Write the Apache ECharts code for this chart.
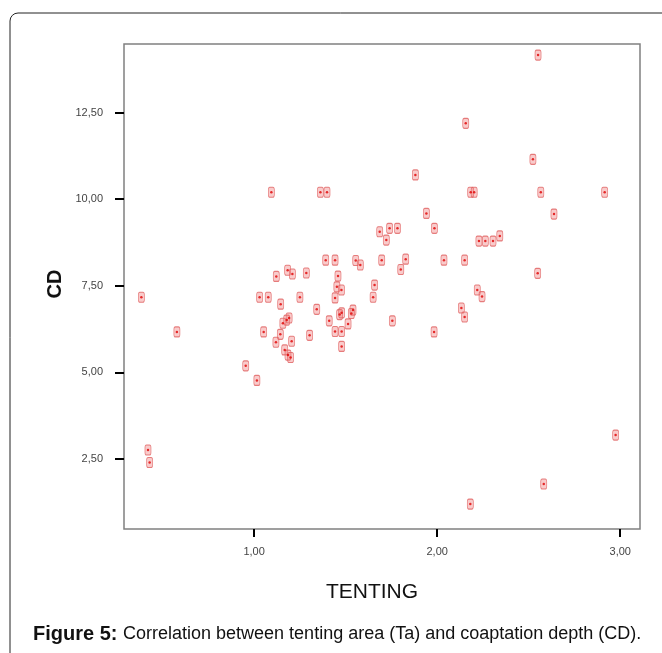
<!DOCTYPE html>
<html>
<head>
<meta charset="utf-8">
<script src="https://cdn.jsdelivr.net/npm/echarts@6/dist/echarts.min.js"></script>
<style>
html,body{margin:0;padding:0;background:#fff;}
#chart{width:662px;height:653px;}
</style>
</head>
<body>
<div id="chart"></div>
<script>
// Tenting area (x) values
const tenting = [2.551,2.156,2.523,1.881,1.094,1.362,1.398,2.183,2.202,2.566,2.915,2.638,1.941,1.985,1.740,1.783,1.686,1.722,2.342,2.228,2.263,2.305,1.391,1.442,1.555,1.580,1.697,1.828,1.801,2.037,2.150,2.549,1.183,1.209,1.285,1.121,1.458,1.452,1.477,1.442,1.658,1.650,2.219,2.245,0.384,1.030,1.077,1.250,1.145,1.342,1.178,1.191,1.157,1.410,1.478,1.467,1.540,1.531,1.513,1.755,2.132,2.150,1.983,0.578,1.052,1.143,1.119,1.205,1.303,1.442,1.478,1.478,1.167,1.185,1.199,0.954,1.015,0.420,0.429,2.975,2.582,2.181];
// Coaptation depth (y) values
const cd = [14.16,12.19,11.15,10.70,10.20,10.20,10.20,10.20,10.20,10.20,10.20,9.57,9.59,9.16,9.16,9.16,9.06,8.82,8.94,8.79,8.79,8.79,8.24,8.24,8.23,8.10,8.24,8.27,7.97,8.24,8.24,7.86,7.95,7.84,7.87,7.77,7.78,7.47,7.38,7.15,7.52,7.17,7.38,7.19,7.17,7.17,7.17,7.17,6.97,6.82,6.51,6.57,6.42,6.49,6.72,6.67,6.80,6.70,6.40,6.49,6.86,6.60,6.17,6.17,6.17,6.10,5.87,5.90,6.07,6.18,6.18,5.75,5.65,5.50,5.43,5.19,4.77,2.76,2.40,3.19,1.78,1.20];
const xTicks = [1, 2, 3];
const yTicks = [2.5, 5, 7.5, 10, 12.5];

const points = tenting.map((x, i) => [x, cd[i]]);
const fmt = v => Number(v).toFixed(2).replace('.', ',');
const labelFont = '"Liberation Sans Narrow", "Liberation Sans", Arial, sans-serif';

const chart = echarts.init(document.getElementById('chart'), null, {renderer: 'canvas'});
chart.setOption({
  animation: false,
  backgroundColor: '#fff',
  grid: {left: 124, top: 44, width: 516, height: 485, show: true, borderColor: '#808080', borderWidth: 1.5, backgroundColor: 'transparent'},
  xAxis: {
    type: 'value', min: 0.289, max: 3.108,
    splitLine: {show: false},
    axisLine: {show: false},
    axisTick: {show: true, customValues: xTicks, length: 8, lineStyle: {color: '#000', width: 2}},
    axisLabel: {customValues: xTicks, formatter: fmt, margin: 17, color: '#444', fontSize: 11, fontFamily: labelFont}
  },
  yAxis: {
    type: 'value', min: 0.48, max: 14.48,
    splitLine: {show: false},
    axisLine: {show: false},
    axisTick: {show: true, customValues: yTicks, length: 9, lineStyle: {color: '#000', width: 2}},
    axisLabel: {customValues: yTicks, formatter: fmt, margin: 21, color: '#444', fontSize: 11, fontFamily: labelFont}
  },
  series: [
    {
      type: 'scatter', data: points, symbol: 'roundRect', symbolSize: [6, 10],
      itemStyle: {color: 'rgba(238,110,110,0.45)', borderColor: '#e06060', borderWidth: 0.9}
    },
    {
      type: 'scatter', data: points, symbol: 'circle', symbolSize: 2.5,
      itemStyle: {color: '#e00000'}
    }
  ],
  graphic: [
    {type: 'rect', shape: {x: 10, y: 13, width: 720, height: 720, r: 8}, style: {fill: 'none', stroke: '#222', lineWidth: 1}, z: -10, silent: true},
    {type: 'text', x: 372, y: 592, style: {text: 'TENTING', fill: '#111', font: '21px "Liberation Sans", Arial, sans-serif', align: 'center', verticalAlign: 'middle'}},
    {type: 'text', x: 55, y: 284, rotation: Math.PI / 2, style: {text: 'CD', fill: '#111', font: 'bold 20px "Liberation Sans", Arial, sans-serif', align: 'center', verticalAlign: 'middle'}},
    {type: 'text', x: 33, y: 634, style: {
      text: '{b|Figure 5:}{s| }{n|Correlation between tenting area (Ta) and coaptation depth (CD).}',
      verticalAlign: 'middle',
      rich: {
        b: {font: 'bold 20px "Liberation Sans", Arial, sans-serif', fill: '#111'},
        s: {font: '20px "Liberation Sans", Arial, sans-serif', fill: '#111'},
        n: {font: '18px "Liberation Sans", Arial, sans-serif', fill: '#111'}
      }
    }}
  ]
});
</script>
</body>
</html>
